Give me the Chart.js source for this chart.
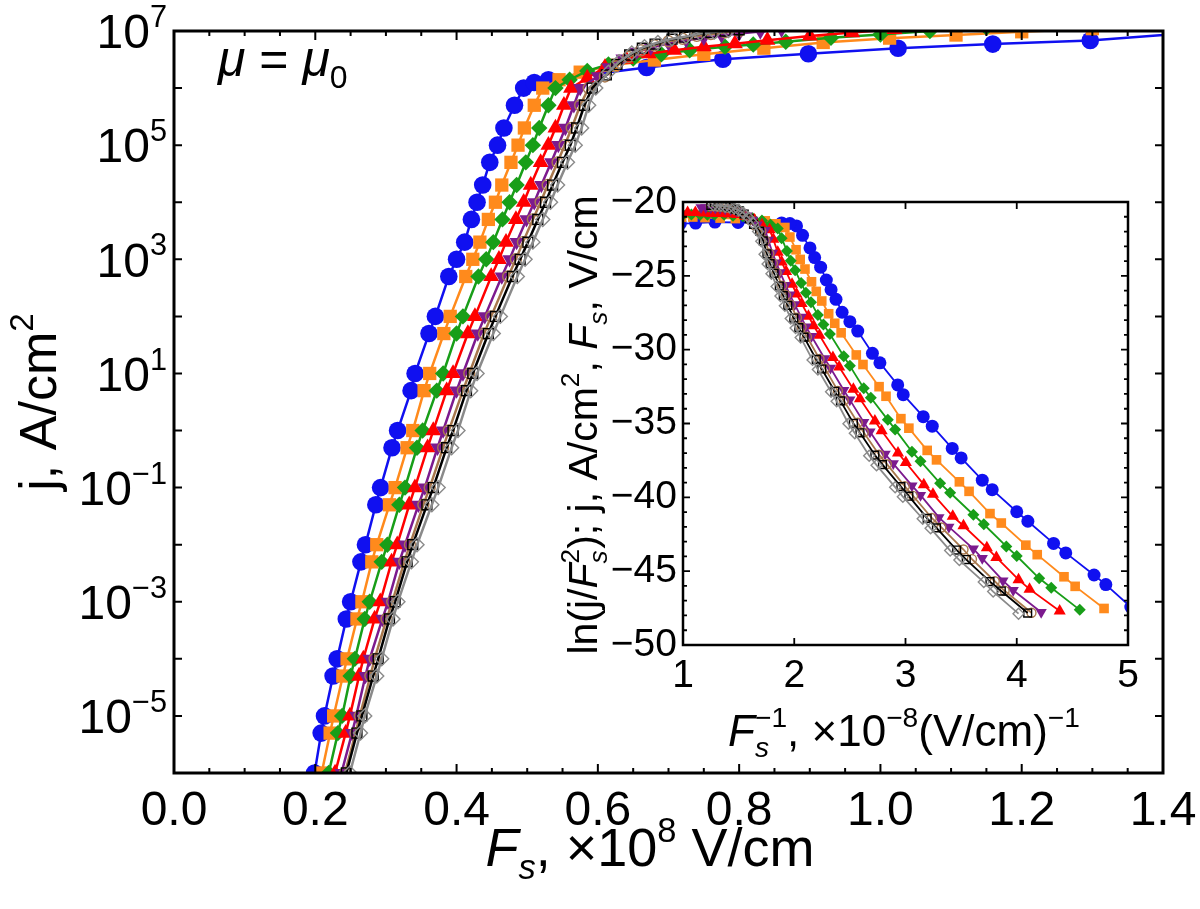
<!DOCTYPE html>
<html>
<head>
<meta charset="utf-8">
<script src="https://cdn.jsdelivr.net/npm/chart.js@4.4.1/dist/chart.umd.min.js"></script>
<style>
  body { margin: 0; background: #fff; }
  #wrap { position: relative; width: 1200px; height: 909px; }
  #main { position: absolute; left: 0; top: 0; }
  #inset { position: absolute; left: 540px; top: 180px; }
</style>
</head>
<body>
<div id="wrap">
  <canvas id="main" width="1200" height="909"></canvas>
  <canvas id="inset" width="620" height="590"></canvas>
</div>
<script>
// current density grid used by the steep (emission) part of every curve, A/cm^2
var jGrid = [1e-6, 5e-6, 1e-5, 5e-5, 1e-4, 5e-4, 1e-3, 5e-3, 1e-2, 5e-2, 0.1, 0.5, 1, 5, 10,
             50, 100, 500, 1e3, 2e3, 5e3, 1e4, 2e4, 5e4, 1e5, 2e5, 5e5, 1e6];

// field Fs (x10^8 V/cm) at each jGrid value, one array per curve
var fBlue   = [0.199, 0.2083, 0.213, 0.2252, 0.2309, 0.2439, 0.250, 0.2646, 0.271, 0.2857, 0.2924, 0.3086, 0.3165, 0.3356, 0.3413, 0.361, 0.370, 0.389, 0.400, 0.4115, 0.421, 0.429, 0.437, 0.447, 0.458, 0.467, 0.482, 0.495];
var fOrange = [0.209, 0.221, 0.226, 0.239, 0.245, 0.259, 0.266, 0.280, 0.287, 0.305, 0.313, 0.330, 0.338, 0.354, 0.362, 0.382, 0.391, 0.413, 0.423, 0.433, 0.445, 0.455, 0.464, 0.477, 0.487, 0.496, 0.510, 0.522];
var fGreen  = [0.219, 0.232, 0.238, 0.250, 0.256, 0.270, 0.277, 0.294, 0.302, 0.319, 0.327, 0.344, 0.352, 0.372, 0.381, 0.400, 0.409, 0.431, 0.442, 0.452, 0.465, 0.475, 0.485, 0.498, 0.508, 0.517, 0.530, 0.540];
var fRed    = [0.228, 0.243, 0.249, 0.262, 0.268, 0.284, 0.292, 0.308, 0.316, 0.333, 0.341, 0.359, 0.367, 0.386, 0.395, 0.416, 0.426, 0.449, 0.460, 0.470, 0.484, 0.495, 0.505, 0.519, 0.530, 0.540, 0.552, 0.562];
var fPurple = [0.237, 0.252, 0.258, 0.271, 0.277, 0.295, 0.303, 0.319, 0.327, 0.346, 0.355, 0.373, 0.381, 0.400, 0.409, 0.430, 0.440, 0.464, 0.475, 0.485, 0.499, 0.510, 0.520, 0.534, 0.544, 0.554, 0.566, 0.575];
var fBrown  = [0.242, 0.257, 0.263, 0.278, 0.284, 0.301, 0.309, 0.326, 0.334, 0.353, 0.362, 0.381, 0.389, 0.409, 0.418, 0.439, 0.449, 0.473, 0.484, 0.494, 0.508, 0.519, 0.529, 0.543, 0.553, 0.563, 0.575, 0.587];
var fBlack  = [0.244, 0.259, 0.266, 0.282, 0.289, 0.305, 0.313, 0.330, 0.338, 0.358, 0.367, 0.386, 0.395, 0.414, 0.423, 0.445, 0.455, 0.479, 0.490, 0.501, 0.515, 0.526, 0.536, 0.550, 0.561, 0.570, 0.581, 0.592];
var fGray   = [0.249, 0.264, 0.270, 0.287, 0.294, 0.310, 0.317, 0.336, 0.344, 0.365, 0.374, 0.393, 0.402, 0.420, 0.429, 0.452, 0.462, 0.486, 0.497, 0.508, 0.522, 0.533, 0.543, 0.557, 0.568, 0.577, 0.587, 0.597];

// saturated part of every curve (Fs, j)
var fBlueTop   = [0.51, 0.53, 0.669, 0.777, 0.898, 1.025, 1.159, 1.297, 1.45];
var jBlueTop   = [1.25e6, 1.4e6, 2.3e6, 3.2e6, 4.0e6, 5.0e6, 5.9e6, 6.8e6, 9.5e6];
var fOrangeTop = [0.545, 0.575, 0.62, 0.68, 0.75, 0.835, 0.919, 1.013, 1.107, 1.2, 1.3];
var jOrangeTop = [1.4e6, 1.9e6, 2.5e6, 3.1e6, 3.9e6, 5.0e6, 6.3e6, 7.5e6, 8.5e6, 9.7e6, 1.1e7];
var fGreenTop  = [0.56, 0.585, 0.615, 0.65, 0.69, 0.73, 0.78, 0.82, 0.866, 0.93, 1.0, 1.07, 1.15];
var jGreenTop  = [1.4e6, 2.0e6, 2.6e6, 3.3e6, 3.9e6, 4.6e6, 5.3e6, 5.8e6, 6.5e6, 7.6e6, 8.7e6, 1.0e7, 1.15e7];
var fRedTop    = [0.585, 0.61, 0.64, 0.672, 0.708, 0.75, 0.794, 0.84, 0.9, 0.96, 1.02];
var jRedTop    = [1.5e6, 2.3e6, 3.2e6, 4.0e6, 4.6e6, 5.3e6, 6.0e6, 6.9e6, 8.2e6, 9.4e6, 1.07e7];
var fPurpleTop = [0.60, 0.615, 0.635, 0.655, 0.675, 0.70, 0.725, 0.75, 0.775, 0.80, 0.83, 0.86];
var jPurpleTop = [1.6e6, 2.3e6, 3.3e6, 4.3e6, 5.1e6, 6.1e6, 6.9e6, 7.6e6, 8.3e6, 9.0e6, 9.8e6, 1.05e7];
var fBrownTop  = [0.61, 0.625, 0.643, 0.661, 0.68, 0.70, 0.72, 0.74, 0.76, 0.78, 0.80];
var jBrownTop  = [1.6e6, 2.4e6, 3.5e6, 4.6e6, 5.6e6, 6.6e6, 7.3e6, 8.2e6, 8.8e6, 9.5e6, 1.0e7];
var fBlackTop  = [0.612, 0.627, 0.645, 0.663, 0.681, 0.705, 0.723, 0.742, 0.76, 0.78, 0.80];
var jBlackTop  = [1.7e6, 2.6e6, 3.8e6, 5.0e6, 5.9e6, 7.2e6, 7.8e6, 8.9e6, 9.4e6, 1.0e7, 1.05e7];
var fGrayTop   = [0.615, 0.63, 0.648, 0.666, 0.685, 0.705, 0.725, 0.745, 0.765, 0.785];
var jGrayTop   = [1.9e6, 2.9e6, 4.1e6, 5.3e6, 6.3e6, 7.3e6, 8.0e6, 9.0e6, 9.6e6, 1.02e7];

// axis ticks
var xMainTicks  = [0, 0.2, 0.4, 0.6, 0.8, 1.0, 1.2, 1.4];
var yMainPowers = [-6, -5, -4, -3, -2, -1, 0, 1, 2, 3, 4, 5, 6, 7];
var xInsetTicks = [1, 2, 3, 4, 5];
var yInsetTicks = [-50, -45, -40, -35, -30, -25, -20];

var FONT = '"Liberation Sans", Arial, Helvetica, sans-serif';

var series = [
  { f: fBlue,   top: [fBlueTop, jBlueTop],     color: '#1010f0', style: 'circle',   r: 8.8, ri: 6.5, fill: true },
  { f: fOrange, top: [fOrangeTop, jOrangeTop], color: '#ff8a1c', style: 'rect',     r: 9.4, ri: 6.8, fill: true },
  { f: fGreen,  top: [fGreenTop, jGreenTop],   color: '#189e18', style: 'rectRot',  r: 8.2, ri: 6,   fill: true },
  { f: fRed,    top: [fRedTop, jRedTop],       color: '#ff0000', style: 'triangle', r: 9.2, ri: 7,   fill: true },
  { f: fPurple, top: [fPurpleTop, jPurpleTop], color: '#7c1a8e', style: 'triangle', r: 8.2, ri: 6.5, fill: true, rot: 180 },
  { f: fBrown,  top: [fBrownTop, jBrownTop],   color: '#a8784e', style: 'circle',   r: 5.5, ri: 4.5, fill: false },
  { f: fBlack,  top: [fBlackTop, jBlackTop],   color: '#000000', style: 'rect',     r: 7,   ri: 5.5, fill: false },
  { f: fGray,   top: [fGrayTop, jGrayTop],     color: '#8a8a8a', style: 'rectRot',  r: 7,   ri: 5.5, fill: false }
];

function mainPoints(s) {
  var pts = s.f.map(function (v, i) { return { x: v, y: jGrid[i] }; });
  s.top[0].forEach(function (v, i) { pts.push({ x: v, y: s.top[1][i] }); });
  return pts;
}

// inset: ln(j/Fs^2) against 1/Fs, Fs in V/cm
function insetPoints(s) {
  return mainPoints(s).map(function (p) {
    var F = p.x * 1e8;
    return { x: 1 / p.x, y: Math.log(p.y / (F * F)) };
  });
}

function makeSets(inset) {
  return series.map(function (s, k) {
    return {
      data: inset ? insetPoints(s) : mainPoints(s),
      borderColor: s.color,
      backgroundColor: s.fill ? s.color : 'rgba(0,0,0,0)',
      pointBackgroundColor: s.fill ? s.color : 'rgba(0,0,0,0)',
      pointBorderColor: s.color,
      pointBorderWidth: s.fill ? 0 : 1.4,
      pointStyle: s.style,
      pointRotation: s.rot || 0,
      pointRadius: inset ? s.ri : s.r,
      borderWidth: inset ? 1.8 : 2.5,
      tension: 0,
      clip: 0,
      order: series.length - k
    };
  });
}

// rich text: parts with italic / sub / sup
function partFont(p, size) {
  var sz = (p.sub || p.sup) ? size * 0.64 : size;
  return (p.i ? 'italic ' : '') + sz + 'px ' + FONT;
}
function layoutRich(ctx, parts, size) {
  var x = 0, hold = 0, out = [];
  parts.forEach(function (p) {
    ctx.font = partFont(p, size);
    var w = ctx.measureText(p.t).width;
    out.push({ p: p, x: x });
    if (p.hold) { hold = w; }
    else { x += Math.max(w, hold); hold = 0; }
  });
  return { items: out, width: x };
}
function drawRich(ctx, parts, x, y, size, rot, align) {
  ctx.save();
  ctx.translate(x, y);
  if (rot) ctx.rotate(rot);
  ctx.fillStyle = '#000';
  ctx.textBaseline = 'alphabetic';
  ctx.textAlign = 'left';
  var lay = layoutRich(ctx, parts, size);
  var x0 = align === 'left' ? 0 : (align === 'right' ? -lay.width : -lay.width / 2);
  lay.items.forEach(function (it) {
    var p = it.p;
    ctx.font = partFont(p, size);
    var dy = p.sub ? size * 0.24 : (p.sup ? -size * 0.44 : 0);
    ctx.fillText(p.t, x0 + it.x, dy);
  });
  ctx.restore();
}

var richText = {
  id: 'richText',
  afterDraw: function (chart, args, o) {
    o.items.forEach(function (it) {
      drawRich(chart.ctx, it.parts, it.x, it.y, it.size, it.rot || 0, it.align);
    });
  }
};

// power-of-ten labels of the log axis, every second decade
var powerLabels = {
  id: 'powerLabels',
  afterDraw: function (chart, args, o) {
    var ys = chart.scales.y, a = chart.chartArea;
    ys.ticks.forEach(function (t) {
      var e = Math.round(Math.log10(t.value));
      if (Math.abs(e) % 2 !== 1) return;
      var py = ys.getPixelForValue(t.value);
      var ex = e < 0 ? '\u2212' + Math.abs(e) : String(e);
      drawRich(chart.ctx, [{ t: '10' }, { t: ex, sup: true }], a.left - o.gap, py + o.size * 0.36, o.size, 0, 'right');
    });
  }
};

// frame with inward ticks on all four sides
var axisFrame = {
  id: 'axisFrame',
  afterDatasetsDraw: function (chart, args, o) {
    var ctx = chart.ctx, a = chart.chartArea;
    var xs = chart.scales.x, ys = chart.scales.y;
    ctx.save();
    ctx.strokeStyle = '#000';
    ctx.lineWidth = o.tickWidth;
    ctx.beginPath();
    o.xTicks.forEach(function (t) {
      var px = xs.getPixelForValue(t[0]);
      ctx.moveTo(px, a.bottom); ctx.lineTo(px, a.bottom - t[1]);
      ctx.moveTo(px, a.top); ctx.lineTo(px, a.top + t[1]);
    });
    o.yTicks.forEach(function (t) {
      var py = ys.getPixelForValue(t[0]);
      ctx.moveTo(a.left, py); ctx.lineTo(a.left + t[1], py);
      ctx.moveTo(a.right, py); ctx.lineTo(a.right - t[1], py);
    });
    ctx.stroke();
    ctx.lineWidth = o.frameWidth;
    ctx.strokeRect(a.left, a.top, a.right - a.left, a.bottom - a.top);
    ctx.restore();
  }
};

// keep label overhang from moving the plot area
function fixX(h) {
  return function (s) { s.height = h; s.paddingLeft = 0; s.paddingRight = 0; };
}
function fixY(w) {
  return function (s) { s.width = w; s.paddingTop = 0; s.paddingBottom = 0; };
}

// tick lists for the frame
var mainXT = [];
for (var i = 0; i <= 28; i++) mainXT.push([i * 0.05, i % 4 === 0 ? 9 : 5]);
var mainYT = yMainPowers.map(function (p) { return [Math.pow(10, p), 8]; });
var insXT = xInsetTicks.map(function (v) { return [v, 7]; });
var insYT = [];
for (var v = -50; v <= -20; v++) insYT.push([v, v % 5 === 0 ? 7 : 4]);

new Chart(document.getElementById('main'), {
  type: 'line',
  data: { datasets: makeSets(false) },
  options: {
    responsive: false,
    animation: false,
    parsing: false,
    layout: { padding: { top: 31, right: 37, left: 0, bottom: 0 } },
    plugins: {
      legend: { display: false },
      tooltip: { enabled: false },
      axisFrame: { xTicks: mainXT, yTicks: mainYT, tickWidth: 2, frameWidth: 3 },
      powerLabels: { size: 48, gap: 7 },
      richText: { items: [
        { parts: [{ t: 'F', i: true }, { t: 's', i: true, sub: true }, { t: ', \u00d710' }, { t: '8', sup: true }, { t: ' V/cm' }],
          x: 650, y: 866, size: 54 },
        { parts: [{ t: 'j, A/cm' }, { t: '2', sup: true }], x: 56, y: 402, size: 52, rot: -Math.PI / 2 },
        { parts: [{ t: '\u03bc', i: true }, { t: ' = ' }, { t: '\u03bc', i: true }, { t: '0', sub: true }],
          x: 218, y: 76, size: 50, align: 'left' }
      ] }
    },
    scales: {
      x: {
        type: 'linear', min: 0, max: 1.4,
        grid: { display: false, drawTicks: false }, border: { display: false },
        afterBuildTicks: function (s) { s.ticks = xMainTicks.map(function (v) { return { value: v }; }); },
        afterFit: fixX(136),
        ticks: { autoSkip: false, maxRotation: 0, padding: 10, color: '#000',
                 font: { family: FONT, size: 48 },
                 callback: function (v) { return Number(v).toFixed(1); } }
      },
      y: {
        type: 'logarithmic', min: 1e-6, max: 1e7,
        grid: { display: false, drawTicks: false }, border: { display: false },
        afterBuildTicks: function (s) { s.ticks = yMainPowers.map(function (p) { return { value: Math.pow(10, p) }; }); },
        afterFit: fixY(174),
        ticks: { display: false }
      }
    }
  },
  plugins: [axisFrame, powerLabels, richText]
});

new Chart(document.getElementById('inset'), {
  type: 'line',
  data: { datasets: makeSets(true) },
  options: {
    responsive: false,
    animation: false,
    parsing: false,
    layout: { padding: { top: 22, right: 32, left: 0, bottom: 0 } },
    plugins: {
      legend: { display: false },
      tooltip: { enabled: false },
      axisFrame: { xTicks: insXT, yTicks: insYT, tickWidth: 1.8, frameWidth: 2.5 },
      richText: { items: [
        { parts: [{ t: 'F', i: true }, { t: 's', i: true, sub: true, hold: true }, { t: '\u22121', sup: true },
                  { t: ', \u00d710' }, { t: '\u22128', sup: true }, { t: '(V/cm)' }, { t: '\u22121', sup: true }],
          x: 364, y: 566, size: 44 },
        { parts: [{ t: 'ln(j/' }, { t: 'F', i: true }, { t: 's', i: true, sub: true, hold: true }, { t: '2', sup: true },
                  { t: '); j, A/cm' }, { t: '2', sup: true }, { t: ', ' }, { t: 'F', i: true }, { t: 's', i: true, sub: true },
                  { t: ', V/cm' }],
          x: 57, y: 245, size: 41, rot: -Math.PI / 2 }
      ] }
    },
    scales: {
      x: {
        type: 'linear', min: 1, max: 5,
        grid: { display: false, drawTicks: false }, border: { display: false },
        afterBuildTicks: function (s) { s.ticks = xInsetTicks.map(function (v) { return { value: v }; }); },
        afterFit: fixX(125),
        ticks: { autoSkip: false, maxRotation: 0, padding: 8, color: '#000',
                 font: { family: FONT, size: 39 } }
      },
      y: {
        type: 'linear', min: -50, max: -20,
        grid: { display: false, drawTicks: false }, border: { display: false },
        afterBuildTicks: function (s) { s.ticks = yInsetTicks.map(function (v) { return { value: v }; }); },
        afterFit: fixY(143),
        ticks: { autoSkip: false, padding: 6, color: '#000',
                 font: { family: FONT, size: 39 },
                 callback: function (v) { return v < 0 ? '\u2212' + Math.abs(v) : String(v); } }
      }
    }
  },
  plugins: [axisFrame, richText]
});
</script>
</body>
</html>
